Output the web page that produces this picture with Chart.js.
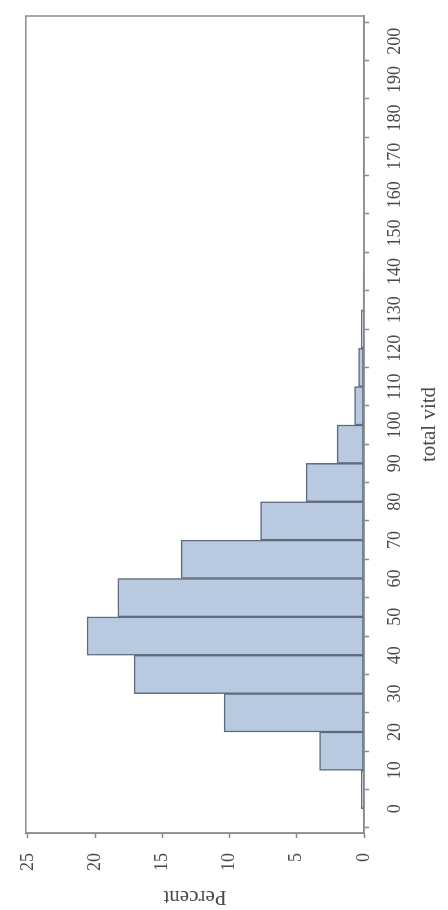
<!DOCTYPE html>
<html>
<head>
<meta charset="utf-8">
<title>total vitd histogram</title>
<script src="https://cdn.jsdelivr.net/npm/chart.js@4"></script>
<style>
  html, body {
    margin: 0;
    padding: 0;
    background: #fff;
    overflow: hidden;
  }
  /* the chart is drawn upright, then turned a quarter to the left like the scan */
  #wrap {
    position: absolute;
    left: 0;
    top: 0;
    width: 910px;
    height: 448px;
    transform-origin: 0 0;
    transform: translate(0, 910px) rotate(-90deg);
  }
</style>
</head>
<body>
<div id="wrap">
  <canvas id="vitdHistogram" width="910" height="448"></canvas>
</div>
<script>
// bin midpoints (width 10)
const vitdBins = [5, 15, 25, 35, 45, 55, 65, 75, 85, 95, 105, 115, 125, 135, 145, 155, 165, 175, 185, 195]
// percent of observations per bin
const percentValues = [0.2, 3.3, 10.4, 17.1, 20.6, 18.3, 13.6, 7.7, 4.3, 2.0, 0.7, 0.4, 0.2, 0.07, 0.03, 0.02, 0, 0, 0, 0]

const vitdTicks = [0, 10, 20, 30, 40, 50, 60, 70, 80, 90, 100, 110, 120, 130, 140, 150, 160, 170, 180, 190, 200]
const percentTicks = [0, 5, 10, 15, 20, 25]

const serif = '"Liberation Serif", "DejaVu Serif", serif'
const textColor = '#4a4a4a'
const lineColor = '#8a8a8a'

// box around the plot area
const frame = {
  id: 'frame',
  afterDatasetsDraw(chart) {
    const { ctx, chartArea } = chart
    ctx.save()
    ctx.strokeStyle = lineColor
    ctx.lineWidth = 1.5
    ctx.strokeRect(chartArea.left, chartArea.top, chartArea.right - chartArea.left, chartArea.bottom - chartArea.top)
    ctx.restore()
  }
}

const ctx = document.getElementById('vitdHistogram')

new Chart(ctx, {
  type: 'bar',
  data: {
    datasets: [
      {
        label: 'Percent',
        data: vitdBins.map((x, i) => ({ x: x, y: percentValues[i] })),
        backgroundColor: '#b8c9e0',
        borderColor: '#5d6b7e',
        borderWidth: 1.5,
        borderSkipped: false,
        barPercentage: 1,
        categoryPercentage: 1
      }
    ]
  },
  plugins: [frame],
  options: {
    responsive: false,
    devicePixelRatio: 1,
    animation: false,
    layout: {
      padding: { top: 19, right: 16, left: 0, bottom: 0 }
    },
    plugins: {
      legend: { display: false },
      tooltip: { enabled: false }
    },
    scales: {
      x: {
        type: 'linear',
        min: -1.25,
        max: 201.5,
        afterBuildTicks: (scale) => {
          scale.ticks = vitdTicks.map((v) => ({ value: v }))
        },
        afterFit: (scale) => {
          scale.height = 84
        },
        grid: {
          drawOnChartArea: false,
          drawTicks: true,
          tickLength: 5,
          tickWidth: 1.5,
          color: lineColor
        },
        border: { color: lineColor, width: 1.5 },
        ticks: {
          autoSkip: false,
          maxRotation: 0,
          padding: 15,
          color: textColor,
          font: { family: serif, size: 18 }
        },
        title: {
          display: true,
          text: 'total vitd',
          color: textColor,
          padding: { top: 0, bottom: 6 },
          font: { family: serif, size: 21 }
        }
      },
      y: {
        min: 0,
        max: 25.15,
        afterBuildTicks: (scale) => {
          scale.ticks = percentTicks.map((v) => ({ value: v }))
        },
        afterFit: (scale) => {
          scale.width = 77
        },
        grid: {
          drawOnChartArea: false,
          drawTicks: true,
          tickLength: 5,
          tickWidth: 1.5,
          color: lineColor
        },
        border: { color: lineColor, width: 1.5 },
        ticks: {
          padding: 15,
          color: textColor,
          font: { family: serif, size: 18 }
        },
        title: {
          display: true,
          text: 'Percent',
          color: textColor,
          padding: { top: 1, bottom: 0 },
          font: { family: serif, size: 21 }
        }
      }
    }
  }
})
</script>
</body>
</html>
